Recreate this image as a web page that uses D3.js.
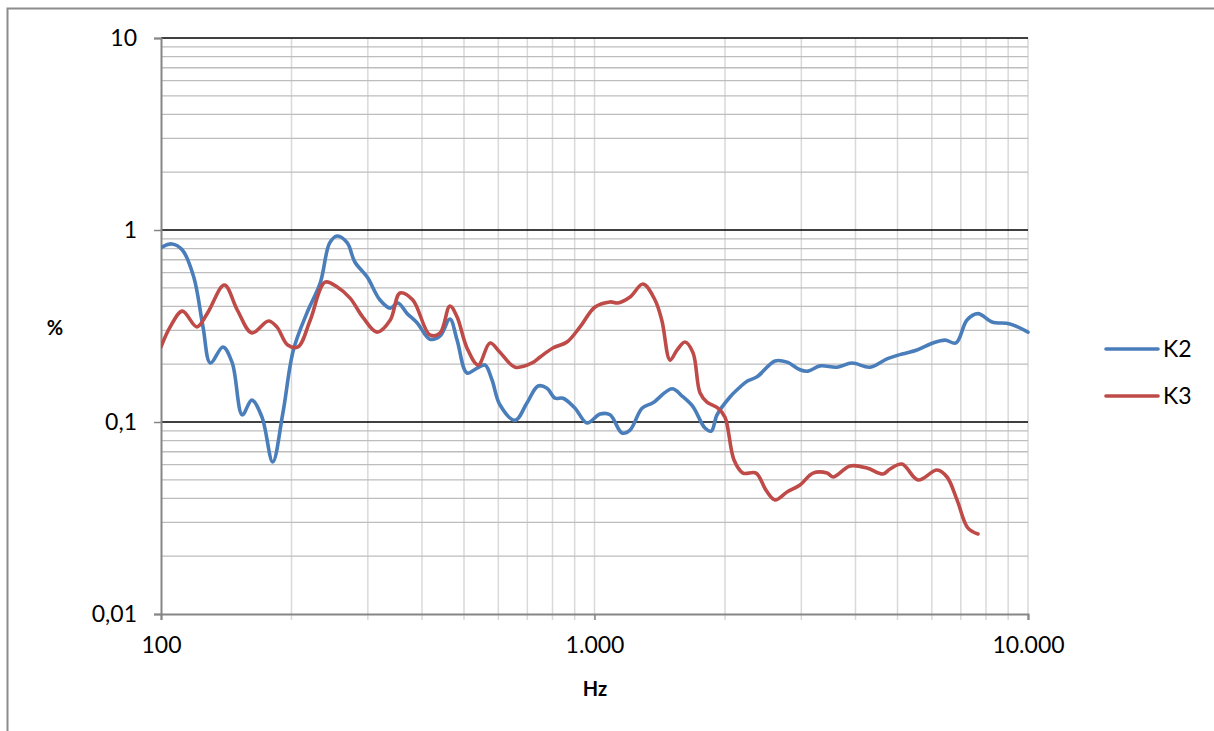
<!DOCTYPE html>
<html><head><meta charset="utf-8">
<script src="https://cdn.jsdelivr.net/npm/d3@7"></script>
<style>
html,body{margin:0;padding:0;background:#fff;}
text{font-family:Lato,"Liberation Sans",sans-serif;}
</style></head>
<body><svg id="c" width="1214" height="731"></svg>
<script>
// Frequencies (Hz) and distortion (%)
const freqK2 = [100,106,112,119,125,130,139,146,154,162,171,181,191,202,217,233,245,255,269,280,299,320,338,352,369,390,417,440,464,482,508,536,559,580,605,656,699,741,777,811,846,902,961,1030,1086,1157,1208,1287,1364,1509,1601,1688,1798,1860,1917,2054,2166,2248,2371,2609,2781,2979,3108,3313,3627,3926,4320,4729,5121,5546,6038,6436,6822,7232,7668,8260,9089,10000];
const K2 = [0.81,0.846,0.787,0.569,0.313,0.203,0.246,0.203,0.109,0.130,0.106,0.0619,0.111,0.237,0.369,0.530,0.856,0.931,0.856,0.681,0.569,0.432,0.392,0.417,0.369,0.328,0.27,0.28,0.344,0.267,0.180,0.191,0.198,0.166,0.123,0.102,0.126,0.154,0.150,0.133,0.133,0.118,0.0988,0.110,0.109,0.0877,0.0908,0.118,0.126,0.149,0.135,0.120,0.093,0.0897,0.109,0.135,0.152,0.163,0.172,0.208,0.205,0.187,0.184,0.196,0.193,0.203,0.193,0.213,0.226,0.237,0.258,0.267,0.258,0.340,0.367,0.332,0.324,0.294];

const freqK3 = [100,105,112,121,128,140,150,162,177,185,196,207,221,239,255,273,292,315,338,356,381,417,440,464,482,508,539,574,605,656,718,749,802,864,926,1003,1086,1133,1208,1294,1379,1431,1494,1550,1618,1688,1751,1817,1927,2000,2098,2201,2358,2486,2609,2781,2979,3192,3439,3550,3885,4252,4630,4805,5121,5577,6168,6504,6859,7270,7668];
const K3 = [0.246,0.313,0.378,0.313,0.369,0.517,0.383,0.291,0.336,0.313,0.252,0.246,0.340,0.535,0.505,0.442,0.352,0.294,0.340,0.470,0.432,0.284,0.29,0.402,0.352,0.243,0.198,0.258,0.231,0.193,0.203,0.218,0.243,0.261,0.313,0.397,0.422,0.417,0.448,0.523,0.432,0.336,0.210,0.237,0.261,0.229,0.142,0.127,0.118,0.106,0.0634,0.0542,0.0542,0.0442,0.0393,0.0432,0.047,0.0542,0.0542,0.0517,0.059,0.0576,0.0536,0.0569,0.0604,0.0499,0.0562,0.0517,0.0393,0.028,0.0261];

const seriesNames = ["K2","K3"];
const seriesColors = ["#4a7ebb","#be4b48"];
const yTickValues = [0.01,0.1,1,10];
const yTickLabels = ["0,01","0,1","1","10"];
const xTickValues = [100,1000,10000];
const xTickLabels = ["100","1.000","10.000"];
const xTitle = "Hz", yTitle = "%";

const svg = d3.select("#c");
const L = 161, R = 1028, T = 38, B = 614;
const x = d3.scaleLog().domain([100,10000]).range([L,R]);
const y = d3.scaleLog().domain([0.01,10]).range([B,T]);

// outer border
svg.append("rect").attr("x",7.5).attr("y",8.5).attr("width",1400).attr("height",900)
  .attr("fill","none").attr("stroke","#8c8c8c").attr("stroke-width",2);

// minor grid values
const minorX = [], minorY = [];
[100,1000].forEach(d=>{for(let k=2;k<=9;k++) minorX.push(d*k);});
[0.01,0.1,1].forEach(d=>{for(let k=2;k<=9;k++) minorY.push(d*k);});

const g = svg.append("g");
// vertical grid
g.selectAll(".vg").data(minorX.concat([1000,10000])).join("line")
  .attr("x1",d=>x(d)).attr("x2",d=>x(d)).attr("y1",T).attr("y2",B+6)
  .attr("stroke","#d9d9d9").attr("stroke-width",1.5);
// horizontal minor grid
g.selectAll(".hg").data(minorY).join("line")
  .attr("x1",L).attr("x2",R).attr("y1",d=>y(d)).attr("y2",d=>y(d))
  .attr("stroke","#bdbdbd").attr("stroke-width",1.3);
// horizontal major grid
g.selectAll(".hm").data([0.1,1,10]).join("line")
  .attr("x1",L).attr("x2",R).attr("y1",d=>y(d)).attr("y2",d=>y(d))
  .attr("stroke","#000").attr("stroke-width",1.4);

// axes
const yAxis = d3.axisLeft(y).tickValues(yTickValues)
  .tickFormat((d,i)=>yTickLabels[i]).tickSize(7).tickPadding(17);
const ya = svg.append("g").attr("transform",`translate(${L},0)`).call(yAxis);
ya.select(".domain").attr("stroke","#868686").attr("stroke-width",2);
ya.selectAll(".tick line").attr("stroke","#868686").attr("stroke-width",1.5);
ya.selectAll(".tick text").attr("font-size",23).attr("fill","#000")
  .attr("font-family","Lato");

const xAxis = d3.axisBottom(x).tickValues(xTickValues)
  .tickFormat((d,i)=>xTickLabels[i]).tickSize(6).tickPadding(17);
const xa = svg.append("g").attr("transform",`translate(0,${B})`).call(xAxis);
xa.select(".domain").attr("stroke","#868686").attr("stroke-width",2);
xa.selectAll(".tick line").attr("stroke","#868686").attr("stroke-width",1.5);
xa.selectAll(".tick text").attr("font-size",23).attr("fill","#000")
  .attr("font-family","Lato");

// axis titles
svg.append("text").attr("x",595).attr("y",696).attr("text-anchor","middle")
  .attr("font-size",20).attr("font-weight","bold").text(xTitle);
svg.append("text").attr("x",55).attr("y",335).attr("text-anchor","middle")
  .attr("font-size",20).attr("font-weight","bold").text(yTitle);

// series lines
const line = d3.line().x(d=>x(d[0])).y(d=>y(d[1])).curve(d3.curveCatmullRom.alpha(0.5));
const data = [d3.zip(freqK2,K2), d3.zip(freqK3,K3)];
svg.append("clipPath").attr("id","pc").append("rect")
  .attr("x",L).attr("y",T-5).attr("width",R-L+2).attr("height",B-T+5);
svg.append("g").attr("clip-path","url(#pc)").selectAll("path").data(data).join("path")
  .attr("d",line).attr("fill","none")
  .attr("stroke",(d,i)=>seriesColors[i]).attr("stroke-width",3.6)
  .attr("stroke-linejoin","round").attr("stroke-linecap","round");

// legend
const lg = svg.append("g");
seriesNames.forEach((n,i)=>{
  const yy = 349 + i*47;
  lg.append("line").attr("x1",1106).attr("x2",1158).attr("y1",yy).attr("y2",yy)
    .attr("stroke",seriesColors[i]).attr("stroke-width",3.6).attr("stroke-linecap","round");
  lg.append("text").attr("x",1163).attr("y",yy).attr("dy","0.36em")
    .attr("font-size",23).text(n);
});
</script></body></html>
